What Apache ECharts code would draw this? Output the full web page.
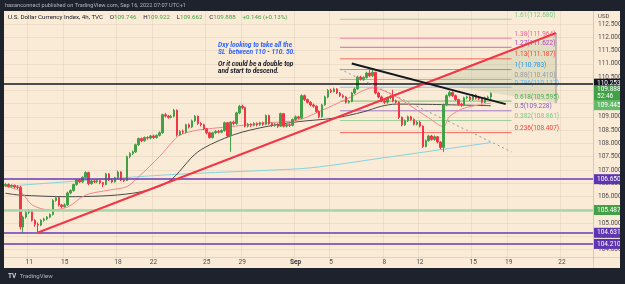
<!DOCTYPE html>
<html><head><meta charset="utf-8">
<script src="https://cdn.jsdelivr.net/npm/echarts@6/dist/echarts.min.js"></script>
<style>html,body{margin:0;padding:0;background:#1e222d;}#c{width:625px;height:284px;}</style>
</head><body><div id="c"></div>
<script>
// ---- candle data (4h bars) ----
const opens=[106.40,106.45,106.38,106.42,106.36,106.34,104.85,105.22,105.40,105.45,105.10,104.95,104.92,105.10,105.15,105.22,105.32,105.85,105.95,105.68,105.62,105.68,106.13,106.22,106.45,106.62,106.55,106.72,106.90,106.48,106.58,106.55,106.60,106.52,106.45,106.85,106.62,106.55,106.70,106.92,106.62,106.60,107.50,107.62,107.68,107.95,108.18,108.10,108.22,108.20,108.28,108.22,108.30,108.40,109.08,109.03,108.98,109.02,109.25,108.32,108.45,108.42,108.70,108.62,108.85,109.02,108.75,108.70,108.55,108.40,108.22,108.40,108.45,108.42,108.48,108.78,108.28,108.80,108.75,109.15,109.40,109.35,108.65,108.72,108.68,108.75,108.70,108.78,108.72,109.05,108.75,108.68,108.72,108.65,109.12,108.65,108.70,108.68,108.90,109.00,108.95,109.80,109.65,109.55,109.45,109.40,109.20,109.00,109.45,109.75,110.00,109.95,110.05,109.90,109.80,109.75,109.55,109.58,109.90,110.05,110.50,110.42,110.48,110.65,110.55,110.68,109.90,109.75,109.60,109.55,109.72,109.78,109.60,109.55,108.98,108.70,108.85,109.00,108.90,108.72,108.80,108.65,107.88,108.10,108.28,108.15,108.25,108.05,107.85,109.45,109.80,109.92,109.80,109.65,109.48,109.45,109.72,109.75,109.65,109.82,109.70,109.68,109.55,109.72,109.746];
const closes=[106.45,106.38,106.42,106.36,106.34,104.85,105.22,105.40,105.45,105.10,104.95,104.92,105.10,105.15,105.22,105.32,105.85,105.95,105.68,105.62,105.68,106.13,106.22,106.45,106.62,106.55,106.72,106.90,106.48,106.58,106.55,106.60,106.52,106.45,106.85,106.62,106.55,106.70,106.92,106.62,106.60,107.50,107.62,107.68,107.95,108.18,108.10,108.22,108.20,108.28,108.22,108.30,108.40,109.08,109.03,108.98,109.02,109.25,108.32,108.45,108.42,108.70,108.62,108.85,109.02,108.75,108.70,108.55,108.40,108.22,108.40,108.45,108.42,108.48,108.78,108.28,108.80,108.75,109.15,109.40,109.35,108.65,108.72,108.68,108.75,108.70,108.78,108.72,109.05,108.75,108.68,108.72,108.65,109.12,108.65,108.70,108.68,108.90,109.00,108.95,109.80,109.65,109.55,109.45,109.40,109.20,109.00,109.45,109.75,110.00,109.95,110.05,109.90,109.80,109.75,109.55,109.58,109.90,110.05,110.50,110.42,110.48,110.65,110.55,110.68,109.90,109.75,109.60,109.55,109.72,109.78,109.60,109.55,108.98,108.70,108.85,109.00,108.90,108.72,108.80,108.65,107.88,108.10,108.28,108.15,108.25,108.05,107.85,109.45,109.80,109.92,109.80,109.65,109.48,109.45,109.72,109.75,109.65,109.82,109.70,109.68,109.55,109.72,109.746,109.888];
const lows=[106.36,106.34,106.33,106.31,106.28,104.75,104.64,105.16,105.33,105.05,104.86,104.65,104.88,105.05,105.10,105.18,105.28,105.80,105.62,105.56,105.58,105.64,106.08,106.18,106.40,106.50,106.50,106.68,106.42,106.44,106.50,106.50,106.46,106.35,106.42,106.58,106.50,106.52,106.66,106.58,106.54,106.58,107.44,107.56,107.64,107.90,108.04,108.06,108.14,108.15,108.17,108.18,108.26,108.36,108.98,108.93,108.94,108.98,108.26,108.28,108.36,108.38,108.56,108.58,108.80,108.70,108.64,108.50,108.34,108.18,108.18,108.35,108.37,108.38,108.44,108.22,107.68,108.68,108.70,109.10,109.28,108.60,108.60,108.62,108.64,108.64,108.66,108.66,108.68,108.70,108.62,108.63,108.58,108.62,108.60,108.60,108.62,108.64,108.85,108.90,108.92,109.60,109.50,109.40,109.35,109.15,108.95,108.97,109.42,109.70,109.90,109.92,109.86,109.75,109.70,109.50,109.50,109.55,109.86,110.02,110.37,110.38,110.44,110.50,110.50,109.85,109.70,109.55,109.48,109.50,109.66,109.55,109.50,108.92,108.64,108.66,108.80,108.85,108.68,108.68,108.60,107.83,107.85,108.06,108.10,108.10,108.00,107.78,107.67,109.40,109.74,109.75,109.60,109.42,109.38,109.42,109.66,109.60,109.61,109.65,109.62,109.50,109.52,109.66,109.662];
const highs=[106.50,106.49,106.46,106.45,106.42,106.40,105.28,105.46,105.52,105.48,105.14,105.02,105.14,105.20,105.26,105.36,105.90,106.02,105.98,105.72,105.74,106.18,106.27,106.48,106.66,106.66,106.76,106.95,106.93,106.62,106.63,106.64,106.64,106.55,106.89,106.88,106.66,106.74,106.97,106.95,106.68,107.54,107.67,107.73,107.99,108.22,108.22,108.26,108.27,108.32,108.33,108.34,108.45,109.12,109.15,109.07,109.08,109.30,109.28,108.50,108.52,108.74,108.75,108.90,109.07,109.05,108.80,108.74,108.58,108.44,108.44,108.50,108.50,108.53,108.82,108.81,108.84,108.86,109.19,109.45,109.46,109.38,108.77,108.76,108.80,108.79,108.82,108.82,109.09,109.08,108.79,108.77,108.76,109.16,109.15,108.75,108.74,108.94,109.05,109.04,109.85,109.84,109.69,109.59,109.50,109.44,109.24,109.49,109.80,110.05,110.06,110.10,110.08,109.94,109.85,109.78,109.63,109.94,110.10,110.55,110.55,110.53,110.70,110.78,110.78,110.70,109.95,109.80,109.66,109.76,109.82,110.02,109.65,109.58,109.02,108.90,109.05,109.04,108.94,108.85,108.84,108.68,108.15,108.32,108.32,108.30,108.28,108.08,109.50,109.85,109.98,109.96,109.84,109.68,109.53,109.76,109.80,109.79,109.86,109.85,109.75,109.72,109.76,109.80,109.922];

// ---- time axis ----
const totalSlots=199;
const xTickSlots=[8,20,38,50,68,80,98,110,128,140,158,170,188];
const xTickLabels=['11','15','18','22','25','29','Sep','5','8','12','15','19','22'];

// ---- moving averages [slot, price] ----
const maFast=[[0,106.38],[5,106.20],[9,105.68],[15,105.49],[21,105.60],[27,106.05],[35,106.24],[41,106.37],[45,106.74],[52,107.50],[57,108.13],[59,108.32],[65,108.50],[76,108.63],[88,108.77],[99,108.88],[105,109.15],[111,109.45],[116,109.71],[124,110.09],[131,109.82],[138,109.33],[143,108.96],[148,108.63],[150,109.01],[155,109.33],[164,109.52]];
const maMid=[[0,106.12],[5,106.05],[21,105.99],[43,106.12],[55,106.55],[65,107.68],[77,108.32],[88,108.63],[99,108.82],[111,108.95],[121,109.19],[127,109.40],[132,109.48],[143,109.47],[164,109.42]];
const maSlow=[[0,106.38],[54,106.81],[100,107.05],[112,107.20],[123,107.38],[164,108.03]];

// ---- horizontal levels ----
const hLevels=[110.253,106.650,105.487,104.631,104.210];
const lastPrice=109.888, lastCountdown='52:46', maLabelPrice=109.445;

// ---- drawings ----
const redTrend=[[11,104.64],[185.6,112.16]];
const blackTrend=[[117,111.01],[169,109.48]];
const fibDiag=[[113,110.80],[171,107.68]];
const fibRatios=['0.236','0.382','0.5','0.618','0.786','0.88','1','1.13','1.27','1.38','1.61'];
const fibPrices=[108.407,108.861,109.228,109.595,110.117,110.410,110.783,111.187,111.622,111.964,112.680];
const fibColors=['#f44336','#81c784','#7e57c2','#4caf50','#64b5f6','#9598a1','#2196f3','#f44336','#ab47bc','#f06292','#81c784'];
const fibStart=113, fibEnd=171;
const triangle=[[142.0,110.31],[185.6,112.16],[185.6,109.52]];

const categories=[];
for(let i=0;i<totalSlots;i++){const j=xTickSlots.indexOf(i);categories.push(j>=0?xTickLabels[j]:'');}
const candleData=opens.map((o,i)=>[o,closes[i],lows[i],highs[i]]);

const FONT='Roboto';
const chart=echarts.init(document.getElementById('c'),null,{renderer:'canvas'});
const lvlColor=['#131722','#673ab7','#a5d6a7','#673ab7','#673ab7'];
const lvlBox=['#131722','#5e35b1','#43a047','#5e35b1','#5e35b1'];
const lvlWidth=[1.5,1.5,2.5,1.5,1.5];
const CLEAR='rgba(0,0,0,0)';

const markLines=hLevels.map((v,i)=>({yAxis:v,lineStyle:{color:lvlColor[i],width:lvlWidth[i],type:'solid'},
  label:{show:true,position:'end',distance:1,formatter:v.toFixed(3),backgroundColor:lvlBox[i],color:'#fff',fontSize:6.5,fontFamily:FONT,padding:[2,2,1,3],width:22}}));
markLines.push({yAxis:lastPrice,lineStyle:{color:CLEAR,width:1},
  label:{show:true,position:'end',distance:1,formatter:lastPrice.toFixed(3)+'\n'+lastCountdown,backgroundColor:'#43a047',color:'#fff',fontSize:6.5,lineHeight:7,fontFamily:FONT,padding:[1,2,1,3],width:22}});
markLines.push({yAxis:maLabelPrice,lineStyle:{color:CLEAR,width:1},
  label:{show:true,position:'end',distance:1,formatter:maLabelPrice.toFixed(3),backgroundColor:'#66bb6a',color:'#fff',fontSize:6.5,fontFamily:FONT,padding:[2,2,1,3],width:22}});

const option={
  animation:false,
  backgroundColor:'#faebd7',
  grid:{left:4,right:32,top:10.73,bottom:21.23,containLabel:false,outerBoundsMode:'none'},
  xAxis:{type:'category',data:categories,boundaryGap:true,
    axisLine:{show:false},axisTick:{show:false},
    axisLabel:{interval:(i,v)=>v!=='',margin:0,verticalAlign:'middle',fontSize:6.5,color:'#4a4a4a',fontFamily:FONT,
      formatter:v=>v==='Sep'?'{b|Sep}':v,rich:{b:{fontWeight:'bold',fontSize:6.5,color:'#333',fontFamily:FONT}}},
    splitLine:{show:true,interval:(i,v)=>v!=='',lineStyle:{color:'rgba(140,110,80,0.10)',width:1}}},
  yAxis:{type:'value',position:'right',min:103.5,max:113,interval:0.5,scale:true,
    axisLine:{show:false},axisTick:{show:false},
    axisLabel:{margin:5,fontSize:6.5,color:'#4a4a4a',fontFamily:FONT,formatter:v=>v.toFixed(3),showMinLabel:false,showMaxLabel:false},
    splitLine:{show:true,showMinLine:false,showMaxLine:false,lineStyle:{color:'rgba(140,110,80,0.10)',width:1}}},
  series:[
    {type:'custom',name:'triangle',data:triangle,z:1,silent:true,
      renderItem:(params,api)=>{ if(params.dataIndex!==0) return null;
        const pts=triangle.map(p=>api.coord(p));
        return {type:'group',children:[
          {type:'polygon',shape:{points:pts},style:{fill:'rgba(110,150,90,0.16)',stroke:null}},
          {type:'line',shape:{x1:pts[1][0],y1:pts[1][1],x2:pts[2][0],y2:pts[2][1]},style:{stroke:'#8f8f8f',lineWidth:1}}]};}},
    {type:'custom',name:'fib',data:fibPrices.map(p=>[fibEnd,p]),z:2,silent:true,
      renderItem:(params,api)=>{const i=params.dataIndex;
        const a=api.coord([fibStart,fibPrices[i]]),b=api.coord([fibEnd,fibPrices[i]]);
        return {type:'group',children:[
          {type:'line',shape:{x1:a[0],y1:a[1],x2:b[0],y2:b[1]},style:{stroke:fibColors[i],lineWidth:1,opacity:0.75}},
          {type:'text',x:b[0]+3,y:b[1]-0.5,style:{text:fibRatios[i]+'('+fibPrices[i].toFixed(3)+')',fill:fibColors[i],fontSize:6.5,fontFamily:FONT,verticalAlign:'bottom',align:'left'}}]};}},
    {type:'line',name:'maSlow',data:maSlow,showSymbol:false,smooth:0.3,z:3,lineStyle:{color:'#86d3de',width:1}},
    {type:'line',name:'maMid',data:maMid,showSymbol:false,smooth:0.3,z:3,lineStyle:{color:'#4a4a4a',width:1}},
    {type:'line',name:'maFast',data:maFast,showSymbol:false,smooth:0.3,z:3,lineStyle:{color:'#f5858a',width:1}},
    {type:'candlestick',name:'DXY',data:candleData,barWidth:2,z:4,
      itemStyle:{color:'#43a047',color0:'#f23645',borderColor:'#43a047',borderColor0:'#f23645',borderWidth:1},
      markLine:{symbol:'none',silent:true,animation:false,data:markLines,z:5}},
    {type:'line',name:'fibDiag',data:fibDiag,showSymbol:false,z:5,lineStyle:{color:'#9598a1',width:1,type:[2,3]}},
    {type:'line',name:'redTrend',data:redTrend,showSymbol:false,z:6,lineStyle:{color:'#f23645',width:2}},
    {type:'line',name:'blackTrend',data:blackTrend,showSymbol:false,z:6,lineStyle:{color:'#131722',width:2}}
  ],
  graphic:[
    {type:'line',shape:{x1:593.5,y1:11,x2:593.5,y2:268},style:{stroke:'rgba(120,100,80,0.18)',lineWidth:1},z:50},
    {type:'line',shape:{x1:4,y1:257.5,x2:620,y2:257.5},style:{stroke:'rgba(120,100,80,0.18)',lineWidth:1},z:50},
    {type:'rect',shape:{x:0,y:0,width:625,height:11},style:{fill:'#1e222d'},z:100},
    {type:'rect',shape:{x:0,y:268,width:625,height:16},style:{fill:'#1e222d'},z:100},
    {type:'rect',shape:{x:0,y:0,width:4,height:284},style:{fill:'#1e222d'},z:100},
    {type:'rect',shape:{x:620,y:0,width:5,height:284},style:{fill:'#1e222d'},z:100},
    {type:'text',x:5,y:5.5,z:101,style:{text:'hasanconnect published on TradingView.com, Sep 16, 2022 07:07 UTC+1',fill:'#b2b5be',fontSize:5.6,fontFamily:FONT,verticalAlign:'middle'}},
    {type:'text',x:8,y:17,z:101,style:{text:'{t|U.S. Dollar Currency Index, 4h, TVC}  {k|O}{v|109.746}  {k|H}{v|109.922}  {k|L}{v|109.662}  {k|C}{v|109.888}  {v|+0.146 (+0.13%)}',verticalAlign:'middle',
      rich:{t:{fill:'#131722',fontSize:6.2,fontFamily:FONT},k:{fill:'#131722',fontSize:6.2,fontFamily:FONT},v:{fill:'#43a047',fontSize:6.2,fontFamily:FONT}}}},
    {type:'text',x:598,y:16.5,z:101,style:{text:'USD',fill:'#4a4a4a',fontSize:6,fontFamily:FONT,verticalAlign:'middle'}},
    {type:'text',x:218,y:49,z:60,style:{text:'Dxy looking to take all the\nSL  between 110 - 110. 50.',fill:'#2962ff',fontSize:6.6,lineHeight:6.8,fontStyle:'italic',fontWeight:'bold',fontFamily:FONT,verticalAlign:'middle'}},
    {type:'text',x:218,y:67.5,z:60,style:{text:'Or it could be a double top\nand start to descend.',fill:'#131722',fontSize:6.6,lineHeight:6.8,fontStyle:'italic',fontWeight:'bold',fontFamily:FONT,verticalAlign:'middle'}},
    {type:'text',x:8,y:276,z:101,style:{text:'{l|TV} {n|TradingView}',verticalAlign:'middle',rich:{l:{fill:'#d1d4dc',fontSize:6.5,fontWeight:'bold',fontFamily:FONT},n:{fill:'#b2b5be',fontSize:6,fontFamily:FONT}}}}
  ]
};
chart.setOption(option);
</script></body></html>
